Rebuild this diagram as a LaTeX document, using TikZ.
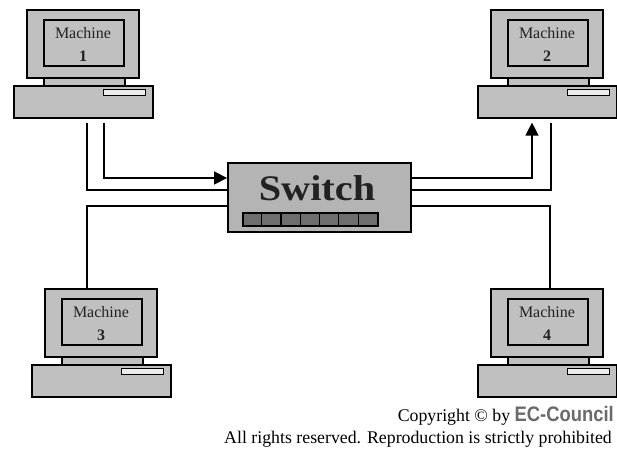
\documentclass[tikz,border=0pt]{standalone}
\usepackage{fontspec}
\setmainfont{Liberation Serif}
\newfontfamily\logofont{Liberation Sans}
\usetikzlibrary{arrows.meta}
\definecolor{casegray}{HTML}{C0C0C0}
\definecolor{switchgray}{HTML}{B4B4B4}
\definecolor{portgray}{HTML}{6E6E6E}
\definecolor{inkgray}{HTML}{222222}
\definecolor{logogray}{HTML}{6A6A6A}
\tikzset{
  part/.style={draw=black, fill=casegray, line width=1.6pt, inner sep=0pt, anchor=north west},
  wire/.style={draw=black, line width=1.3pt},
  flow/.style={wire, -{Triangle[length=13pt,width=13pt]}},
  screentext/.style={text=inkgray, font=\fontsize{16}{16}\selectfont, inner sep=0pt},
  notice/.style={anchor=base east, inner sep=0pt, font=\fontsize{17.8}{17.8}\selectfont},
  machine/.pic={
    % monitor housing, screen, stand, base unit and drive slot
    \node[part, minimum width=112pt, minimum height=68pt] (-mon) at (13,0) {};
    \node[part, minimum width=80pt, minimum height=46pt] (-scr) at (30,10) {};
    \node[part, minimum width=81pt, minimum height=8pt] (-stand) at (30,68) {};
    \node[part, minimum width=139pt, minimum height=32pt] (-base) at (0,76) {};
    \node[part, fill=white!70!casegray, line width=1.3pt, minimum width=42pt, minimum height=6pt] (-slot) at (90,80) {};
    \node[screentext] (-label) at (70,24) {Machine};
    \node[screentext, font=\fontsize{16}{16}\selectfont\bfseries] (-num) at (70,47) {#1};
  }
}
\begin{document}
\begin{tikzpicture}[x=1pt, y=-1pt]
  \fill[white] (0,0) rectangle (617,449);
  \useasboundingbox (0,0) rectangle (617,449);

  % the four workstations
  \pic (m1) at (13,9) {machine=1};
  \pic (m2) at (477,9) {machine=2};
  \pic (m3) at (31,288) {machine=3};
  \pic (m4) at (477,288) {machine=4};

  % the switch with its port strip
  \node[draw=black, fill=switchgray, line width=1.8pt, minimum width=183pt, minimum height=69pt, inner sep=0pt] (sw) at (319.5,197.5) {};
  \node[text=inkgray, font=\fontsize{36}{36}\selectfont\bfseries, inner sep=0pt, anchor=base] (swlabel) at (317,200) {\scalebox{1.12}[1]{Switch}};
  \node[draw=black, fill=portgray, line width=1.2pt, minimum width=135pt, minimum height=13pt, inner sep=0pt] (ports) at (310.5,219.5) {};
  \foreach \i in {1,...,6}
    \draw[black, line width=1.2pt] ([xshift=\i*135/7 pt]ports.north west) -- ([xshift=\i*135/7 pt]ports.south west);

  % links from machine 1 into the switch
  \draw[flow] ([xshift=91pt,yshift=-4pt]m1-base.south west) |- ([yshift=19.5pt]sw.west);
  \draw[wire, line width=1.6pt] ([xshift=74pt,yshift=-4pt]m1-base.south west) |- ([yshift=7.5pt]sw.west);
  % link down to machine 3
  \draw[wire, line width=1.6pt] ([yshift=-8.5pt]sw.west) -| ([xshift=43pt]m3-mon.north west);

  % links from the switch to machine 2
  \draw[flow] ([yshift=19.5pt]sw.east) -| ([xshift=55pt,yshift=-4pt]m2-base.south west);
  \draw[wire] ([yshift=7.5pt]sw.east) -| ([xshift=74pt,yshift=-4pt]m2-base.south west);
  % link down to machine 4
  \draw[wire, line width=1.6pt] ([yshift=-8.5pt]sw.east) -| ([xshift=60pt]m4-mon.north west);

  % copyright notice
  \node[notice] (copy) at (614,421)
    {Copyright \textcopyright{} by {\logofont\bfseries\color{logogray}\fontsize{20}{20}\selectfont\scalebox{0.92}[1.05]{EC-Council}}};
  \node[notice] (rights) at (612,443)
    {All rights reserved. Reproduction is strictly prohibited};
\end{tikzpicture}
\end{document}
